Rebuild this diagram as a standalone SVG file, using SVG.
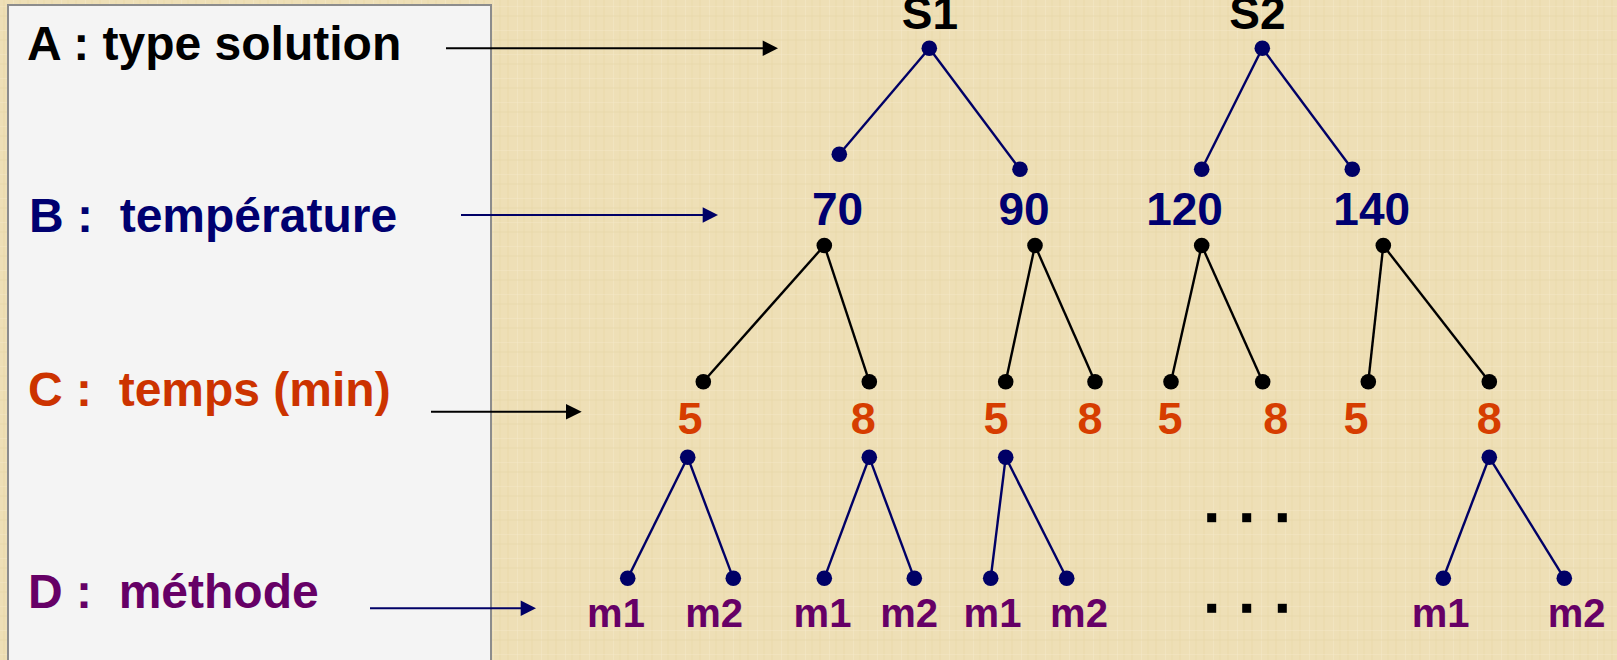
<svg xmlns="http://www.w3.org/2000/svg" width="1617" height="660" viewBox="0 0 1617 660">
<defs>
<pattern id="weave" width="24" height="24" patternUnits="userSpaceOnUse">
<rect width="24" height="24" fill="#eedfb6"/>
<rect x="3" y="0" width="2" height="24" fill="#e7d6a6" opacity="0.35"/>
<rect x="13" y="0" width="1" height="24" fill="#f5ead0" opacity="0.4"/>
<rect x="19" y="0" width="2" height="24" fill="#e8d7a8" opacity="0.3"/>
<rect x="0" y="6" width="24" height="1" fill="#f4e8cb" opacity="0.4"/>
<rect x="0" y="15" width="24" height="2" fill="#e7d6a6" opacity="0.3"/>
</pattern>
</defs>
<style>
text{font-family:"Liberation Sans",Arial,sans-serif;font-weight:bold}
.leg{font-size:48px}
.a{fill:#000000}
.b{fill:#000070}
.c{fill:#cc3300}
.d{fill:#660066}
.s{font-size:46px;fill:#000000;text-anchor:middle}
.t{font-size:46px;fill:#000070;text-anchor:middle}
.m{font-size:45px;fill:#d63d00;text-anchor:middle}
.k{font-size:40px;fill:#660066;text-anchor:middle}
.nv{fill:#000066}
.bk{fill:#000000}
.ln{stroke:#000066;stroke-width:2.4;fill:none}
.lk{stroke:#000000;stroke-width:2.4;fill:none}
.arr{stroke-width:2;fill:none}
</style>
<rect x="0" y="0" width="1617" height="660" fill="url(#weave)"/>
<rect x="8" y="5" width="483" height="670" fill="#f4f4f4" stroke="#8c8c8c" stroke-width="2"/>

<g id="legend-A"><text class="leg a" x="27" y="60">A : type solution</text></g>
<g id="legend-B"><text class="leg b" x="29" y="232" xml:space="preserve">B :  température</text></g>
<g id="legend-C"><text class="leg c" x="28" y="406" xml:space="preserve">C :  temps (min)</text></g>
<g id="legend-D"><text class="leg d" x="28" y="608" xml:space="preserve">D :  méthode</text></g>

<g id="connectors">
<line class="arr" stroke="#000000" x1="446" y1="48.3" x2="764" y2="48.3"/>
<polygon fill="#000000" points="762.7,40.6 778,48.3 762.7,56"/>
<line class="arr" stroke="#000066" x1="461" y1="215" x2="704" y2="215"/>
<polygon fill="#000066" points="702.7,207.3 718,215 702.7,222.7"/>
<line class="arr" stroke="#000000" x1="431" y1="411.7" x2="567" y2="411.7"/>
<polygon fill="#000000" points="566,404 581.7,411.7 566,419.4"/>
<line class="arr" stroke="#000066" x1="370" y1="608.3" x2="522" y2="608.3"/>
<polygon fill="#000066" points="520.7,600.6 536,608.3 520.7,616"/>

<line class="ln" x1="929.3" y1="48.3" x2="839.3" y2="154.3"/>
<line class="ln" x1="929.3" y1="48.3" x2="1020" y2="169.3"/>
<line class="ln" x1="1262.3" y1="48.3" x2="1201.7" y2="169.3"/>
<line class="ln" x1="1262.3" y1="48.3" x2="1352.3" y2="169.3"/>

<line class="lk" x1="824.3" y1="245.5" x2="703.3" y2="381.7"/>
<line class="lk" x1="824.3" y1="245.5" x2="869.3" y2="381.7"/>
<line class="lk" x1="1035" y1="245.5" x2="1005.7" y2="381.7"/>
<line class="lk" x1="1035" y1="245.5" x2="1095" y2="381.7"/>
<line class="lk" x1="1201.7" y1="245.5" x2="1171" y2="381.7"/>
<line class="lk" x1="1201.7" y1="245.5" x2="1262.7" y2="381.7"/>
<line class="lk" x1="1383.3" y1="245.5" x2="1368.3" y2="381.7"/>
<line class="lk" x1="1383.3" y1="245.5" x2="1489.3" y2="381.7"/>

<line class="ln" x1="687.7" y1="457.3" x2="627.7" y2="578.3"/>
<line class="ln" x1="687.7" y1="457.3" x2="733.3" y2="578.3"/>
<line class="ln" x1="869.3" y1="457.3" x2="824.3" y2="578.3"/>
<line class="ln" x1="869.3" y1="457.3" x2="914.3" y2="578.3"/>
<line class="ln" x1="1005.7" y1="457.3" x2="990.7" y2="578.3"/>
<line class="ln" x1="1005.7" y1="457.3" x2="1066.7" y2="578.3"/>
<line class="ln" x1="1489.3" y1="457.3" x2="1443.3" y2="578.3"/>
<line class="ln" x1="1489.3" y1="457.3" x2="1564.3" y2="578.3"/>
</g>

<g id="node-S1"><text class="s" x="930" y="29">S1</text><circle class="nv" cx="929.3" cy="48.3" r="7.8"/></g>
<g id="node-S2"><text class="s" x="1257.5" y="29">S2</text><circle class="nv" cx="1262.3" cy="48.3" r="7.8"/></g>

<g id="node-70"><circle class="nv" cx="839.3" cy="154.3" r="7.8"/><text class="t" x="837.5" y="225">70</text><circle class="bk" cx="824.3" cy="245.5" r="7.8"/></g>
<g id="node-90"><circle class="nv" cx="1020" cy="169.3" r="7.8"/><text class="t" x="1024" y="225">90</text><circle class="bk" cx="1035" cy="245.5" r="7.8"/></g>
<g id="node-120"><circle class="nv" cx="1201.7" cy="169.3" r="7.8"/><text class="t" x="1184.5" y="225">120</text><circle class="bk" cx="1201.7" cy="245.5" r="7.8"/></g>
<g id="node-140"><circle class="nv" cx="1352.3" cy="169.3" r="7.8"/><text class="t" x="1371.7" y="225">140</text><circle class="bk" cx="1383.3" cy="245.5" r="7.8"/></g>

<g id="node-70-5"><circle class="bk" cx="703.3" cy="381.7" r="7.8"/><text class="m" x="690" y="434.3">5</text><circle class="nv" cx="687.7" cy="457.3" r="7.8"/></g>
<g id="node-70-8"><circle class="bk" cx="869.3" cy="381.7" r="7.8"/><text class="m" x="863.3" y="434.3">8</text><circle class="nv" cx="869.3" cy="457.3" r="7.8"/></g>
<g id="node-90-5"><circle class="bk" cx="1005.7" cy="381.7" r="7.8"/><text class="m" x="996" y="434.3">5</text><circle class="nv" cx="1005.7" cy="457.3" r="7.8"/></g>
<g id="node-90-8"><circle class="bk" cx="1095" cy="381.7" r="7.8"/><text class="m" x="1090" y="434.3">8</text></g>
<g id="node-120-5"><circle class="bk" cx="1171" cy="381.7" r="7.8"/><text class="m" x="1170" y="434.3">5</text></g>
<g id="node-120-8"><circle class="bk" cx="1262.7" cy="381.7" r="7.8"/><text class="m" x="1275.7" y="434.3">8</text></g>
<g id="node-140-5"><circle class="bk" cx="1368.3" cy="381.7" r="7.8"/><text class="m" x="1356" y="434.3">5</text></g>
<g id="node-140-8"><circle class="bk" cx="1489.3" cy="381.7" r="7.8"/><text class="m" x="1489.3" y="434.3">8</text><circle class="nv" cx="1489.3" cy="457.3" r="7.8"/></g>

<g id="leaf-1"><circle class="nv" cx="627.7" cy="578.3" r="7.8"/><text class="k" x="616" y="627.3">m1</text></g>
<g id="leaf-2"><circle class="nv" cx="733.3" cy="578.3" r="7.8"/><text class="k" x="714.2" y="627.3">m2</text></g>
<g id="leaf-3"><circle class="nv" cx="824.3" cy="578.3" r="7.8"/><text class="k" x="822.5" y="627.3">m1</text></g>
<g id="leaf-4"><circle class="nv" cx="914.3" cy="578.3" r="7.8"/><text class="k" x="909.2" y="627.3">m2</text></g>
<g id="leaf-5"><circle class="nv" cx="990.7" cy="578.3" r="7.8"/><text class="k" x="992.5" y="627.3">m1</text></g>
<g id="leaf-6"><circle class="nv" cx="1066.7" cy="578.3" r="7.8"/><text class="k" x="1079" y="627.3">m2</text></g>
<g id="leaf-7"><circle class="nv" cx="1443.3" cy="578.3" r="7.8"/><text class="k" x="1440.7" y="627.3">m1</text></g>
<g id="leaf-8"><circle class="nv" cx="1564.3" cy="578.3" r="7.8"/><text class="k" x="1576.7" y="627.3">m2</text></g>

<g id="ellipsis" fill="#000000">
<rect x="1207.2" y="513.2" width="9" height="9"/>
<rect x="1242.2" y="513.2" width="9" height="9"/>
<rect x="1277.8" y="513.2" width="9" height="9"/>
<rect x="1207.2" y="603.8" width="9" height="9"/>
<rect x="1242.2" y="603.8" width="9" height="9"/>
<rect x="1277.8" y="603.8" width="9" height="9"/>
</g>
</svg>
